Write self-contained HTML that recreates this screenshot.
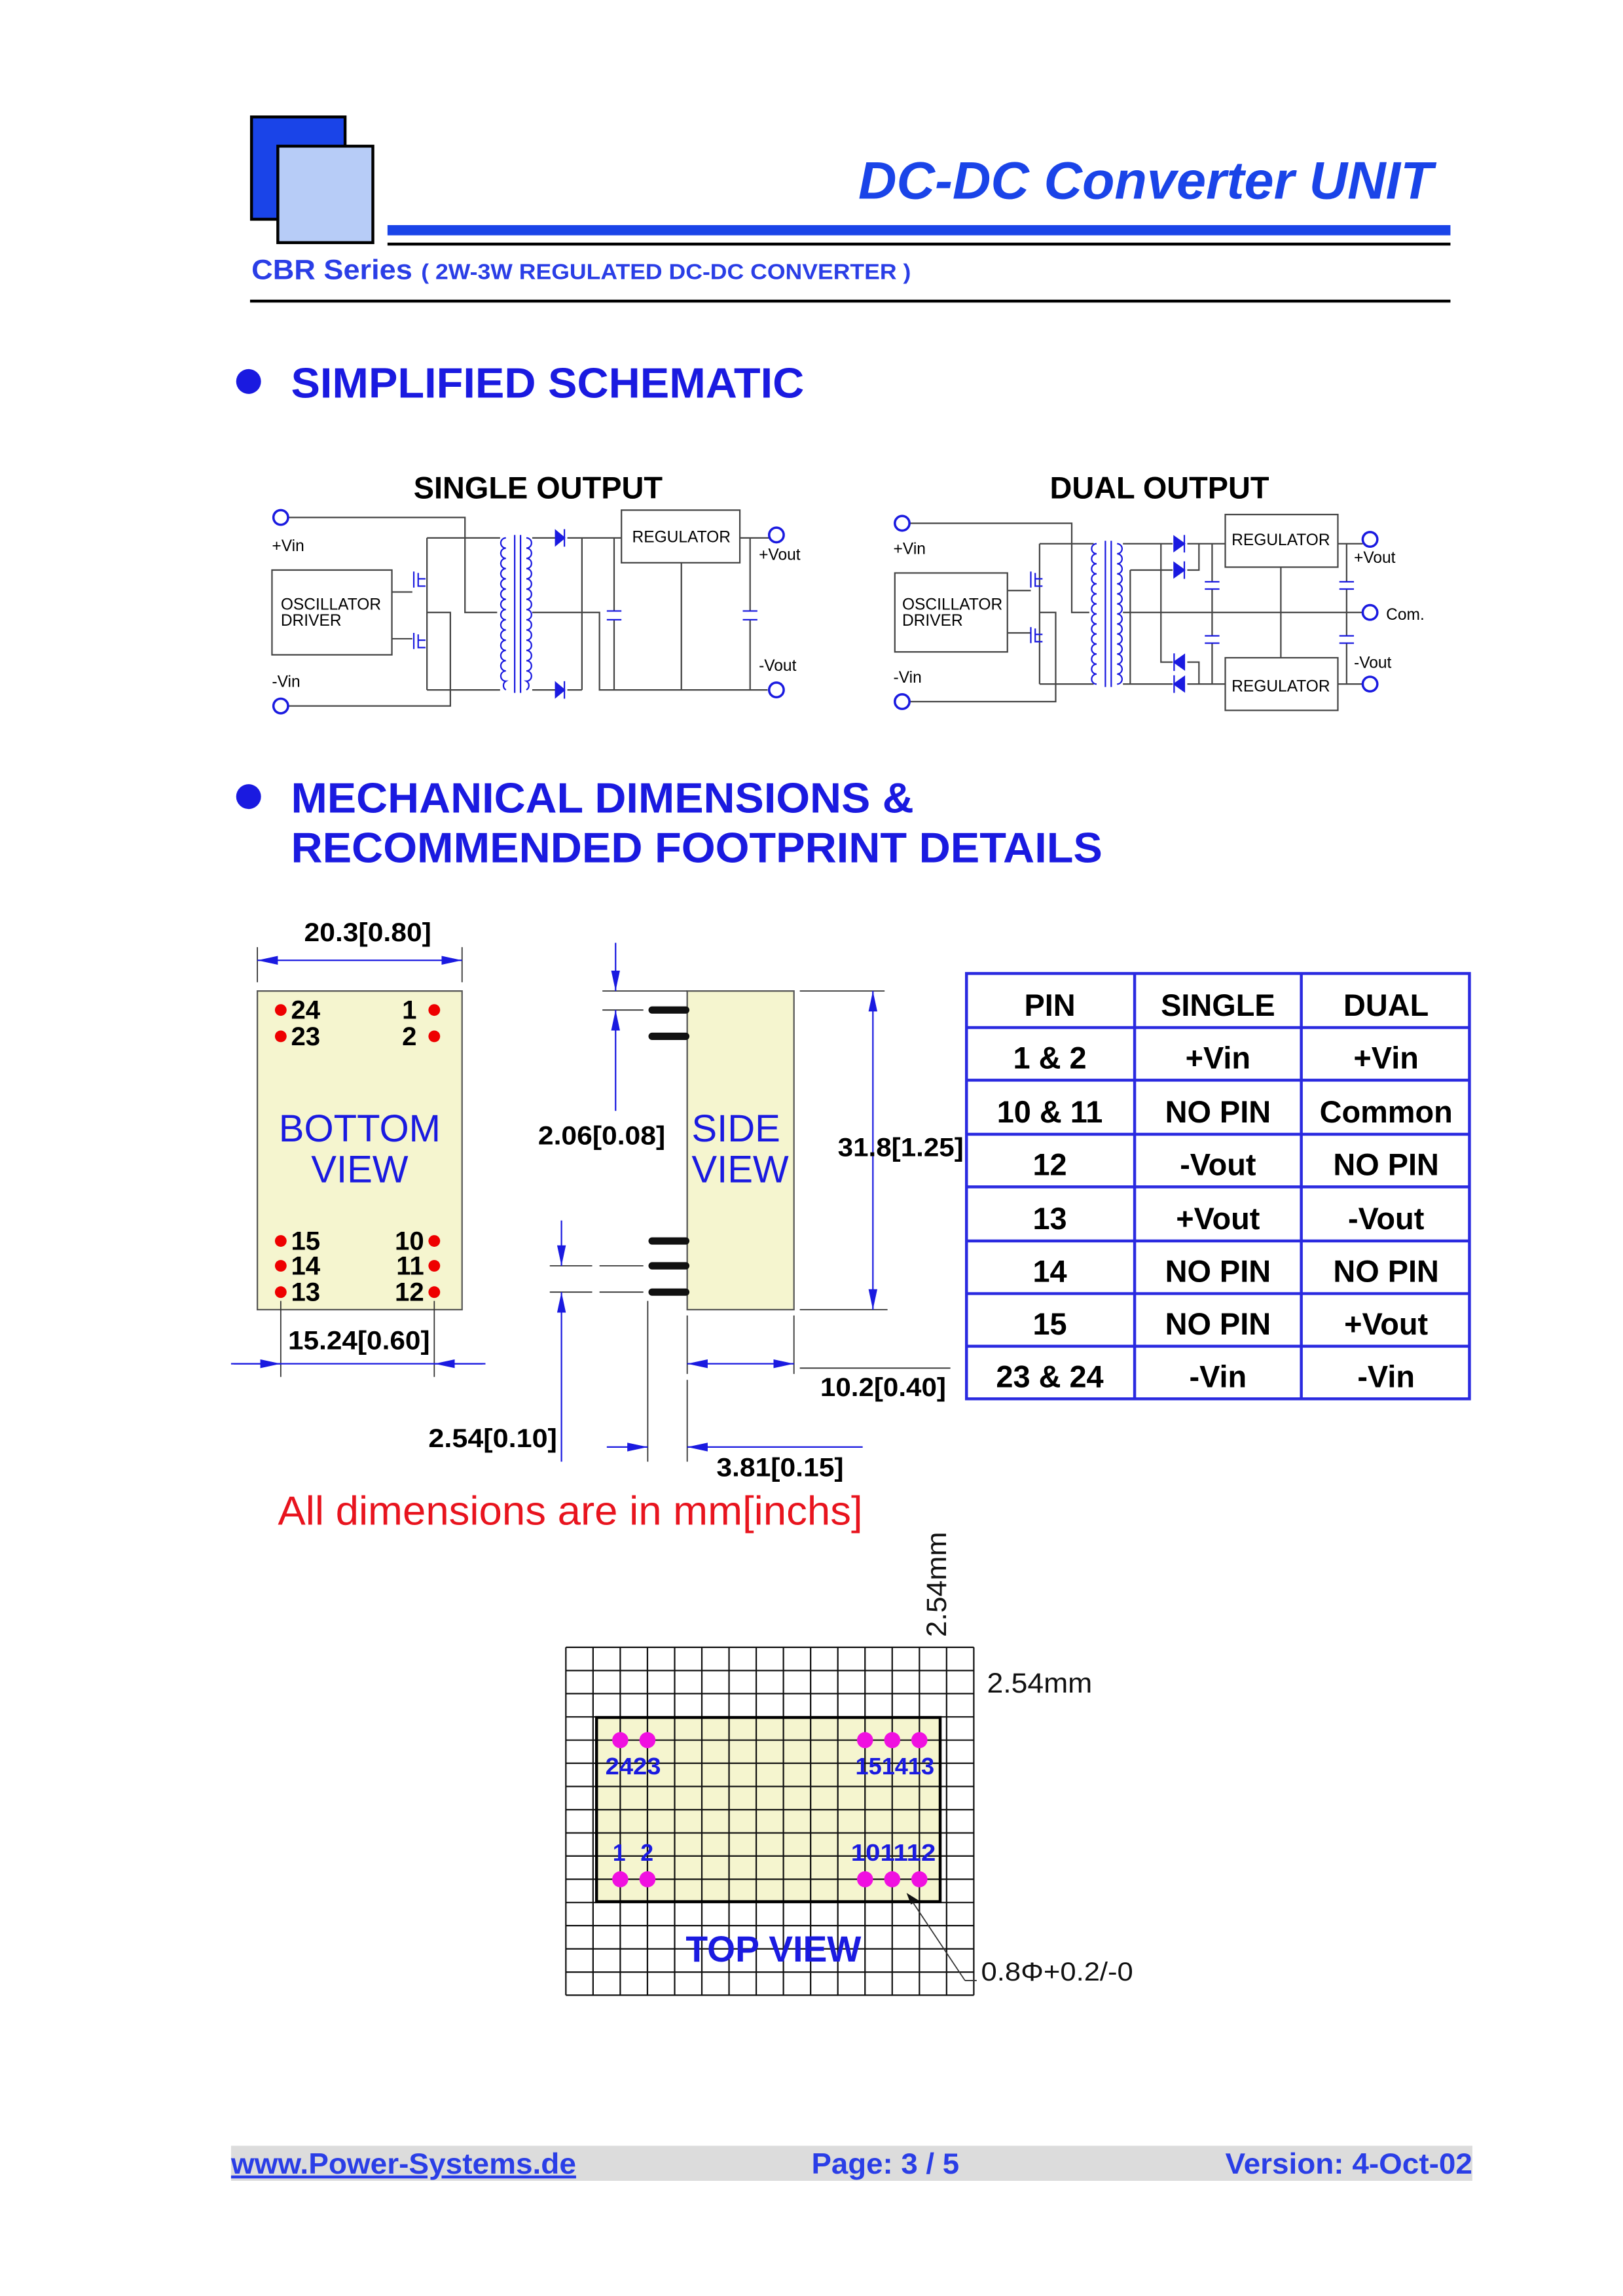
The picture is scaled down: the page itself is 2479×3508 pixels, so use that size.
<!DOCTYPE html>
<html><head><meta charset="utf-8"><style>
html,body{margin:0;padding:0;background:#fff}
svg{display:block}
text{font-family:"Liberation Sans",Arial,sans-serif}
</style></head><body>
<svg width="2479" height="3508" viewBox="0 0 1110 1570.8" xmlns="http://www.w3.org/2000/svg">
<defs>
<marker id="ar" markerUnits="userSpaceOnUse" markerWidth="14" markerHeight="6" refX="14" refY="3" orient="auto-start-reverse"><path d="M0,0 L14,3 L0,6 z" fill="#1a1ae0"/></marker>
</defs>
<rect width="1110" height="1571" fill="#fff"/>

<!-- Header -->
<rect x="172" y="80" width="64" height="70" fill="#1a44e8" stroke="#000" stroke-width="2"/>
<rect x="190" y="100" width="65" height="66" fill="#b7ccf7" stroke="#000" stroke-width="2"/>
<text x="587" y="136" textLength="393" lengthAdjust="spacingAndGlyphs" font-size="36" font-weight="bold" font-style="italic" fill="#1a44e8">DC-DC Converter UNIT</text>
<rect x="265" y="154" width="727" height="7" fill="#1a44e8"/>
<rect x="265" y="166" width="727" height="2" fill="#000"/>
<text x="172" y="191" textLength="110" lengthAdjust="spacingAndGlyphs" font-size="19" font-weight="bold" fill="#2a3ee6">CBR Series</text>
<text x="288" y="191" textLength="335" lengthAdjust="spacingAndGlyphs" font-size="15" font-weight="bold" fill="#2a3ee6">( 2W-3W REGULATED DC-DC CONVERTER )</text>
<rect x="171" y="205" width="821" height="2" fill="#000"/>

<circle cx="170" cy="261" r="8.5" fill="#1a1ae0"/>
<text x="199" y="272" textLength="351" lengthAdjust="spacingAndGlyphs" font-size="29" font-weight="bold" fill="#1a1ae0">SIMPLIFIED SCHEMATIC</text>

<text x="368" y="341" text-anchor="middle" font-size="21" font-weight="bold" fill="#000">SINGLE OUTPUT</text>
<text x="793" y="341" text-anchor="middle" font-size="21" font-weight="bold" fill="#000">DUAL OUTPUT</text>

<!-- Single schematic -->
<g stroke="#444" stroke-width="1" fill="none">
<path d="M197,354 H318 V419 H340"/>
<rect x="186" y="390" width="82" height="58"/>
<path d="M268,405 H282 M268,437 H282"/>
<path d="M292,368 V472 M292,368 H342 M292,472 H342 M292,419 H308 V483 H197"/>
<path d="M364,368 H380 M364,472 H380 M364,419 H410 V472 H525"/>
<path d="M388,368 H425 M388,472 H398 M398,368 V472"/>
<path d="M420,368 V418 M420,424 V472"/>
<rect x="425" y="349" width="81" height="36"/>
<path d="M466,385 V472 M506,368 H526 M513,368 V418 M513,424 V472"/>
</g>
<g stroke="#1a1ae0" stroke-width="1" fill="none">
<circle cx="192" cy="354" r="5" stroke-width="1.6"/>
<circle cx="192" cy="483" r="5" stroke-width="1.6"/>
<circle cx="531" cy="366" r="5" stroke-width="1.6"/>
<circle cx="531" cy="472" r="5" stroke-width="1.6"/>
<path d="M346,368 a3.5,3.5 0 0 0 0,7 a3.5,3.5 0 0 0 0,7 a3.5,3.5 0 0 0 0,7 a3.5,3.5 0 0 0 0,7 a3.5,3.5 0 0 0 0,7 a3.5,3.5 0 0 0 0,7 a3.5,3.5 0 0 0 0,7 a3.5,3.5 0 0 0 0,7 a3.5,3.5 0 0 0 0,7 a3.5,3.5 0 0 0 0,7 a3.5,3.5 0 0 0 0,7 a3.5,3.5 0 0 0 0,7 a3.5,3.5 0 0 0 0,7 a3.5,3.5 0 0 0 0,7 a3.5,3.5 0 0 0 0,6"/>
<path d="M360,368 a3.5,3.5 0 0 1 0,7 a3.5,3.5 0 0 1 0,7 a3.5,3.5 0 0 1 0,7 a3.5,3.5 0 0 1 0,7 a3.5,3.5 0 0 1 0,7 a3.5,3.5 0 0 1 0,7 a3.5,3.5 0 0 1 0,7 a3.5,3.5 0 0 1 0,7 a3.5,3.5 0 0 1 0,7 a3.5,3.5 0 0 1 0,7 a3.5,3.5 0 0 1 0,7 a3.5,3.5 0 0 1 0,7 a3.5,3.5 0 0 1 0,7 a3.5,3.5 0 0 1 0,7 a3.5,3.5 0 0 1 0,6"/>
<path d="M352,366 V474 M356,366 V474"/>
<path d="M415,418 H425 M415,424 H425 M508,418 H518 M508,424 H518"/>
<path d="M283,391 V402 M286,392 V401 H291 M286,396 H291 M283,433 V444 M286,434 V443 H291 M286,438 H291"/>
</g>
<path d="M380,363 L386,368 L380,373 z M380,467 L386,472 L380,477 z" fill="#1a1ae0" stroke="#1a1ae0"/>
<path d="M386,362 V374 M386,466 V478" stroke="#1a1ae0"/>
<g font-size="11" fill="#000">
<text x="186" y="377">+Vin</text><text x="186" y="470">-Vin</text>
<text x="192" y="417">OSCILLATOR</text><text x="192" y="428">DRIVER</text>
<text x="466" y="371" text-anchor="middle">REGULATOR</text>
<text x="519" y="383">+Vout</text><text x="519" y="459">-Vout</text>
</g>

<!-- Dual schematic -->
<g stroke="#444" stroke-width="1" fill="none">
<path d="M622,358 H733 V419 H745"/>
<rect x="612" y="392" width="77" height="54"/>
<path d="M689,404 H705 M689,433 H705"/>
<path d="M711,372 V468 M711,372 H748 M711,468 H748 M711,419 H722 V480 H622"/>
<path d="M768,372 H802 M812,372 H838 M794,372 V453 H802 M812,453 H820 V468"/>
<path d="M773,390 H802 M812,390 H820 V372 M773,390 V468 M768,468 H802 M812,468 H838"/>
<path d="M768,419 H932"/>
<path d="M829,372 V398 M829,403 V435 M829,440 V468"/>
<rect x="838" y="352" width="77" height="36"/>
<rect x="838" y="450" width="77" height="36"/>
<path d="M876,388 V450 M915,372 H932 M915,468 H932 M921,372 V398 M921,403 V435 M921,440 V468"/>
</g>
<g stroke="#1a1ae0" stroke-width="1" fill="none">
<circle cx="617" cy="358" r="5" stroke-width="1.6"/>
<circle cx="617" cy="480" r="5" stroke-width="1.6"/>
<circle cx="937" cy="369" r="5" stroke-width="1.6"/>
<circle cx="937" cy="419" r="5" stroke-width="1.6"/>
<circle cx="937" cy="468" r="5" stroke-width="1.6"/>
<path d="M750,372 a3.43,3.43 0 0 0 0,6.86 a3.43,3.43 0 0 0 0,6.86 a3.43,3.43 0 0 0 0,6.86 a3.43,3.43 0 0 0 0,6.86 a3.43,3.43 0 0 0 0,6.86 a3.43,3.43 0 0 0 0,6.86 a3.43,3.43 0 0 0 0,6.86 a3.43,3.43 0 0 0 0,6.86 a3.43,3.43 0 0 0 0,6.86 a3.43,3.43 0 0 0 0,6.86 a3.43,3.43 0 0 0 0,6.86 a3.43,3.43 0 0 0 0,6.86 a3.43,3.43 0 0 0 0,6.86 a3.43,3.43 0 0 0 0,6.86"/>
<path d="M764,372 a3.43,3.43 0 0 1 0,6.86 a3.43,3.43 0 0 1 0,6.86 a3.43,3.43 0 0 1 0,6.86 a3.43,3.43 0 0 1 0,6.86 a3.43,3.43 0 0 1 0,6.86 a3.43,3.43 0 0 1 0,6.86 a3.43,3.43 0 0 1 0,6.86 a3.43,3.43 0 0 1 0,6.86 a3.43,3.43 0 0 1 0,6.86 a3.43,3.43 0 0 1 0,6.86 a3.43,3.43 0 0 1 0,6.86 a3.43,3.43 0 0 1 0,6.86 a3.43,3.43 0 0 1 0,6.86 a3.43,3.43 0 0 1 0,6.86"/>
<path d="M756,370 V470 M760,370 V470"/>
<path d="M824,398 H834 M824,403 H834 M824,435 H834 M824,440 H834 M916,398 H926 M916,403 H926 M916,435 H926 M916,440 H926"/>
<path d="M705,391 V402 M708,392 V401 H713 M708,396 H713 M705,429 V440 M708,430 V439 H713 M708,434 H713"/>
</g>
<path d="M803,367 L810,372 L803,377 z M803,385 L810,390 L803,395 z M810,448 L803,453 L810,458 z M810,463 L803,468 L810,473 z" fill="#1a1ae0" stroke="#1a1ae0"/>
<path d="M810,366 V378 M810,384 V396 M803,447 V459 M803,462 V474" stroke="#1a1ae0"/>
<g font-size="11" fill="#000">
<text x="611" y="379">+Vin</text><text x="611" y="467">-Vin</text>
<text x="617" y="417">OSCILLATOR</text><text x="617" y="428">DRIVER</text>
<text x="876" y="373" text-anchor="middle">REGULATOR</text>
<text x="876" y="473" text-anchor="middle">REGULATOR</text>
<text x="926" y="385">+Vout</text><text x="948" y="424">Com.</text><text x="926" y="457">-Vout</text>
</g>

<!-- Mechanical heading -->
<circle cx="170" cy="545" r="8.5" fill="#1a1ae0"/>
<text x="199" y="556" textLength="426" lengthAdjust="spacingAndGlyphs" font-size="29" font-weight="bold" fill="#1a1ae0">MECHANICAL DIMENSIONS &amp;</text>
<text x="199" y="590" textLength="555" lengthAdjust="spacingAndGlyphs" font-size="29" font-weight="bold" fill="#1a1ae0">RECOMMENDED FOOTPRINT DETAILS</text>

<!-- Bottom view -->
<rect x="176" y="678" width="140" height="218" fill="#f5f5cf" stroke="#555" stroke-width="1"/>
<g fill="#e00">
<circle cx="192" cy="691" r="4"/><circle cx="192" cy="709" r="4"/>
<circle cx="297" cy="691" r="4"/><circle cx="297" cy="709" r="4"/>
<circle cx="192" cy="849" r="4"/><circle cx="192" cy="866" r="4"/><circle cx="192" cy="884" r="4"/>
<circle cx="297" cy="849" r="4"/><circle cx="297" cy="866" r="4"/><circle cx="297" cy="884" r="4"/>
</g>
<g font-size="18" font-weight="bold" fill="#000">
<text x="199" y="697">24</text><text x="199" y="715">23</text>
<text x="199" y="855">15</text><text x="199" y="872">14</text><text x="199" y="890">13</text>
<text x="285" y="697" text-anchor="end">1</text><text x="285" y="715" text-anchor="end">2</text>
<text x="290" y="855" text-anchor="end">10</text><text x="290" y="872" text-anchor="end">11</text><text x="290" y="890" text-anchor="end">12</text>
</g>
<text x="246" y="781" text-anchor="middle" font-size="26" fill="#1a1ae0">BOTTOM</text>
<text x="246" y="809" text-anchor="middle" font-size="26" fill="#1a1ae0">VIEW</text>

<!-- Side view -->
<rect x="470" y="678" width="73" height="218" fill="#f5f5cf" stroke="#555" stroke-width="1"/>
<g stroke="#111" stroke-width="5" stroke-linecap="round">
<path d="M446,691 H469 M446,709 H469 M446,849 H469 M446,866 H469 M446,884 H469"/>
</g>
<text x="473" y="781" font-size="26" fill="#1a1ae0">SIDE</text>
<text x="473" y="809" font-size="26" fill="#1a1ae0">VIEW</text>

<!-- Dimension lines -->
<g stroke="#333" stroke-width="0.8" fill="none">
<path d="M176,648 V672 M316,648 V672"/>
<path d="M192,890 V942 M297,890 V942"/>
<path d="M412,678 H470 M412,691 H440"/>
<path d="M547,678 H605 M547,896 H607"/>
<path d="M376,866 H405 M410,866 H440 M376,884 H405 M410,884 H440"/>
<path d="M470,900 V940 M543,900 V940 M547,936 H650"/>
<path d="M443,890 V1000 M470,944 V1000"/>
</g>
<g stroke="#1a1ae0" stroke-width="1" fill="none">
<line x1="176" y1="657" x2="316" y2="657" marker-start="url(#ar)" marker-end="url(#ar)"/>
<line x1="158" y1="933" x2="332" y2="933"/>
<line x1="160" y1="933" x2="192" y2="933" marker-end="url(#ar)"/>
<line x1="330" y1="933" x2="297" y2="933" marker-end="url(#ar)"/>
<line x1="421" y1="645" x2="421" y2="678" marker-end="url(#ar)"/>
<line x1="421" y1="760" x2="421" y2="691" marker-end="url(#ar)"/>
<line x1="597" y1="678" x2="597" y2="896" marker-start="url(#ar)" marker-end="url(#ar)"/>
<line x1="384" y1="835" x2="384" y2="866" marker-end="url(#ar)"/>
<line x1="384" y1="1000" x2="384" y2="884" marker-end="url(#ar)"/>
<line x1="470" y1="933" x2="543" y2="933" marker-start="url(#ar)" marker-end="url(#ar)"/>
<line x1="415" y1="990" x2="443" y2="990" marker-end="url(#ar)"/>
<line x1="590" y1="990" x2="470" y2="990" marker-end="url(#ar)"/>
</g>
<g font-size="18" font-weight="bold" fill="#000" lengthAdjust="spacingAndGlyphs">
<text x="208" y="644" textLength="87" lengthAdjust="spacingAndGlyphs">20.3[0.80]</text>
<text x="197" y="923" textLength="97" lengthAdjust="spacingAndGlyphs">15.24[0.60]</text>
<text x="368" y="783" textLength="87" lengthAdjust="spacingAndGlyphs">2.06[0.08]</text>
<text x="573" y="791" textLength="86" lengthAdjust="spacingAndGlyphs">31.8[1.25]</text>
<text x="293" y="990" textLength="88" lengthAdjust="spacingAndGlyphs">2.54[0.10]</text>
<text x="561" y="955" textLength="86" lengthAdjust="spacingAndGlyphs">10.2[0.40]</text>
<text x="490" y="1010" textLength="87" lengthAdjust="spacingAndGlyphs">3.81[0.15]</text>
</g>
<text x="190" y="1043" textLength="400" lengthAdjust="spacingAndGlyphs" font-size="28" fill="#e8141e">All dimensions are in mm[inchs]</text>

<!-- Table -->
<g stroke="#2a2ae0" stroke-width="2" fill="none">
<rect x="661" y="666" width="344" height="291"/>
<path d="M776,666 V957 M890,666 V957"/>
<path d="M661,703 H1005 M661,739 H1005 M661,776 H1005 M661,812 H1005 M661,849 H1005 M661,885 H1005 M661,921 H1005"/>
</g>
<g font-size="21" font-weight="bold" fill="#000" text-anchor="middle">
<text x="718" y="695">PIN</text><text x="833" y="695">SINGLE</text><text x="948" y="695">DUAL</text>
<text x="718" y="731">1 &amp; 2</text><text x="833" y="731">+Vin</text><text x="948" y="731">+Vin</text>
<text x="718" y="768">10 &amp; 11</text><text x="833" y="768">NO PIN</text><text x="948" y="768">Common</text>
<text x="718" y="804">12</text><text x="833" y="804">-Vout</text><text x="948" y="804">NO PIN</text>
<text x="718" y="841">13</text><text x="833" y="841">+Vout</text><text x="948" y="841">-Vout</text>
<text x="718" y="877">14</text><text x="833" y="877">NO PIN</text><text x="948" y="877">NO PIN</text>
<text x="718" y="913">15</text><text x="833" y="913">NO PIN</text><text x="948" y="913">+Vout</text>
<text x="718" y="949">23 &amp; 24</text><text x="833" y="949">-Vin</text><text x="948" y="949">-Vin</text>
</g>

<!-- Footprint grid -->
<rect x="408" y="1175" width="235" height="126" fill="#f5f5cf"/>
<g stroke="#111" stroke-width="1">
<path d="M387,1127 V1365 M405.6,1127 V1365 M424.2,1127 V1365 M442.8,1127 V1365 M461.4,1127 V1365 M480,1127 V1365 M498.6,1127 V1365 M517.2,1127 V1365 M535.8,1127 V1365 M554.4,1127 V1365 M573,1127 V1365 M591.6,1127 V1365 M610.2,1127 V1365 M628.8,1127 V1365 M647.4,1127 V1365 M666,1127 V1365"/>
<path d="M387,1127 H666 M387,1142.9 H666 M387,1158.7 H666 M387,1174.6 H666 M387,1190.5 H666 M387,1206.3 H666 M387,1222.2 H666 M387,1238.1 H666 M387,1254 H666 M387,1269.8 H666 M387,1285.7 H666 M387,1301.6 H666 M387,1317.4 H666 M387,1333.3 H666 M387,1349.2 H666 M387,1365 H666"/>
</g>
<rect x="408" y="1175" width="235" height="126" fill="none" stroke="#000" stroke-width="2"/>
<g fill="#f010e0">
<circle cx="424.2" cy="1190.5" r="5.5"/><circle cx="442.8" cy="1190.5" r="5.5"/>
<circle cx="591.6" cy="1190.5" r="5.5"/><circle cx="610.2" cy="1190.5" r="5.5"/><circle cx="628.8" cy="1190.5" r="5.5"/>
<circle cx="424.2" cy="1285.7" r="5.5"/><circle cx="442.8" cy="1285.7" r="5.5"/>
<circle cx="591.6" cy="1285.7" r="5.5"/><circle cx="610.2" cy="1285.7" r="5.5"/><circle cx="628.8" cy="1285.7" r="5.5"/>
</g>
<g font-size="16" font-weight="bold" fill="#1a1ae0">
<text x="414" y="1214" textLength="38" lengthAdjust="spacingAndGlyphs">2423</text>
<text x="585" y="1214" textLength="54" lengthAdjust="spacingAndGlyphs">151413</text>
<text x="419" y="1273">1</text><text x="438" y="1273">2</text>
<text x="582" y="1273" textLength="58" lengthAdjust="spacingAndGlyphs">101112</text>
</g>
<text x="469" y="1342" textLength="120" lengthAdjust="spacingAndGlyphs" font-size="25" font-weight="bold" fill="#1a1ae0">TOP VIEW</text>
<path d="M660,1355 L622,1298" stroke="#333" stroke-width="0.8"/>
<path d="M620,1295 L628,1300 L623,1303 z" fill="#111"/>
<path d="M660,1355 H668" stroke="#333" stroke-width="0.8"/>
<text x="671" y="1355" textLength="104" lengthAdjust="spacingAndGlyphs" font-size="18" fill="#111">0.8Φ+0.2/-0</text>
<text x="675" y="1158" textLength="72" lengthAdjust="spacingAndGlyphs" font-size="19" fill="#111">2.54mm</text>
<text transform="translate(647,1120) rotate(-90)" textLength="72" lengthAdjust="spacingAndGlyphs" font-size="19" fill="#111">2.54mm</text>

<!-- Footer -->
<rect x="158" y="1468" width="849" height="24" fill="#dcdcdc"/>
<text x="158" y="1487" textLength="236" lengthAdjust="spacingAndGlyphs" font-size="20" font-weight="bold" fill="#2a3ee6" text-decoration="underline">www.Power-Systems.de</text>
<text x="555" y="1487" textLength="101" lengthAdjust="spacingAndGlyphs" font-size="20" font-weight="bold" fill="#2a3ee6">Page: 3 / 5</text>
<text x="838" y="1487" textLength="169" lengthAdjust="spacingAndGlyphs" font-size="20" font-weight="bold" fill="#2a3ee6">Version: 4-Oct-02</text>
</svg>
</body></html>
